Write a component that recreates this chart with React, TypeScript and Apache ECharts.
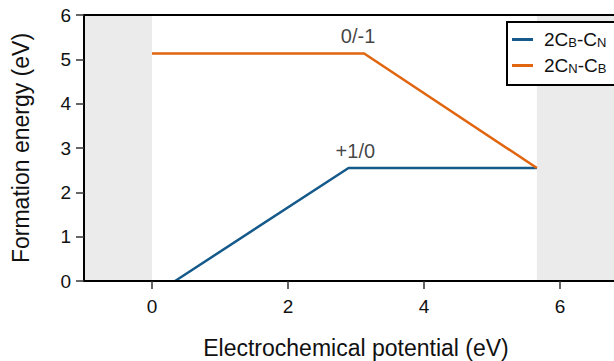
import React, { useEffect, useRef } from "react";
import * as echarts from "echarts";

const seriesNames = ["2CB-CN", "2CN-CB"];
const blueX = [0.34, 2.89, 5.66];
const blueY = [0, 2.55, 2.55];
const orangeX = [0, 3.12, 5.66];
const orangeY = [5.13, 5.13, 2.55];
const shadedRanges = [[-1, 0], [5.66, 7]];
const annotations: [number, number, string][] = [
  [3.03, 5.53, "0/-1"],
  [2.99, 2.93, "+1/0"],
];
const xTicks = [0, 2, 4, 6];
const legendLabels: Record<string, string> = {
  "2CB-CN": "2C{sub|B}-C{sub|N}",
  "2CN-CB": "2C{sub|N}-C{sub|B}",
};

const FONT = "Liberation Sans, Arial, sans-serif";

export default function App() {
  const ref = useRef<HTMLDivElement>(null);
  useEffect(() => {
    if (!ref.current) return;
    const chart = echarts.init(ref.current, null, { renderer: "svg" });
    chart.setOption({
      animation: false,
      backgroundColor: "#fff",
      textStyle: { fontFamily: FONT },
      grid: {
        left: 84,
        top: 15,
        bottom: 80,
        right: 0,
        containLabel: false,
        outerBoundsMode: "none",
        show: true,
        z: 8,
        backgroundColor: "transparent",
        borderColor: "#000",
        borderWidth: 2,
      },
      legend: {
        orient: "vertical",
        left: 507,
        top: 22,
        padding: [8, 20, 10, 5],
        itemGap: 7,
        itemWidth: 21,
        itemHeight: 3,
        icon: "rect",
        borderColor: "#000",
        borderWidth: 2,
        backgroundColor: "#fff",
        borderRadius: 0,
        z: 10,
        data: seriesNames,
        formatter: (n: string) => legendLabels[n],
        textStyle: {
          fontFamily: FONT,
          fontSize: 19,
          color: "#111",
          padding: [0, 0, 0, 6],
          rich: {
            sub: { fontSize: 13, fontFamily: FONT, color: "#111", padding: [6, 0, 0, 0] },
          },
        },
      },
      xAxis: {
        type: "value",
        min: -1,
        max: 7,
        z: 9,
        name: "Electrochemical potential (eV)",
        nameLocation: "middle",
        nameGap: 55,
        nameTextStyle: { fontSize: 23, color: "#111", fontFamily: FONT },
        axisLine: { onZero: false, lineStyle: { color: "#000", width: 2 } },
        axisTick: { show: true, length: 8, lineStyle: { color: "#333", width: 1.5 }, customValues: xTicks },
        axisLabel: { fontSize: 19, color: "#111", margin: 16, customValues: xTicks, fontFamily: FONT },
        splitLine: { show: false },
      },
      yAxis: {
        type: "value",
        min: 0,
        max: 6,
        interval: 1,
        z: 9,
        name: "Formation energy (eV)",
        nameLocation: "middle",
        nameGap: 52,
        nameTextStyle: { fontSize: 23, color: "#111", fontFamily: FONT },
        axisLine: { show: true, onZero: false, lineStyle: { color: "#000", width: 2 } },
        axisTick: { show: true, length: 8, lineStyle: { color: "#333", width: 1.5 } },
        axisLabel: { fontSize: 19, color: "#111", margin: 13, fontFamily: FONT },
        splitLine: { show: false },
      },
      series: [
        {
          name: seriesNames[0],
          type: "line",
          symbol: "none",
          color: "#155a8a",
          lineStyle: { width: 2.5, color: "#155a8a" },
          data: blueX.map((x, i) => [x, blueY[i]]),
          z: 3,
          markArea: {
            silent: true,
            z: 1,
            itemStyle: { color: "#ebebeb" },
            data: shadedRanges.map(([a, b]) => [{ xAxis: a }, { xAxis: b }]),
          },
        },
        {
          name: seriesNames[1],
          type: "line",
          symbol: "none",
          color: "#e0650e",
          lineStyle: { width: 2.5, color: "#e0650e" },
          data: orangeX.map((x, i) => [x, orangeY[i]]),
          z: 3,
        },
        {
          type: "scatter",
          symbolSize: 0,
          silent: true,
          data: annotations.map(([x, y, t]) => ({ value: [x, y], name: t })),
          label: {
            show: true,
            position: "inside",
            formatter: (p: any) => p.name,
            fontSize: 20,
            color: "#111",
            fontFamily: FONT,
          },
        },
      ],
    });
    return () => chart.dispose();
  }, []);
  return (
    <div style={{ position: "absolute", left: 0, top: 0, width: 614, height: 361, overflow: "hidden" }}>
      <div ref={ref} style={{ width: 628, height: 361 }} />
    </div>
  );
}
